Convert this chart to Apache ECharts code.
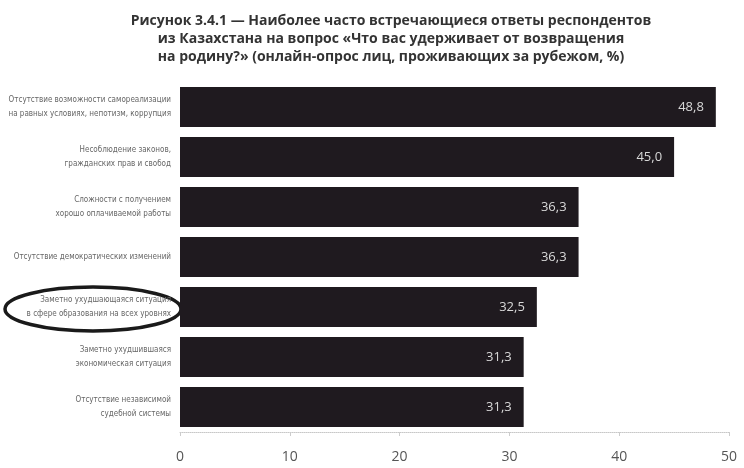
<!DOCTYPE html>
<html><head><meta charset="utf-8">
<script src="https://cdn.jsdelivr.net/npm/echarts@6/dist/echarts.min.js"></script>
<style>html,body{margin:0;padding:0;background:#fff}#c{width:744px;height:468px}</style>
</head><body><div id="c"></div>
<script>
const categories = [
  "Отсутствие возможности самореализации\nна равных условиях, непотизм, коррупция",
  "Несоблюдение законов,\nгражданских прав и свобод",
  "Сложности с получением\nхорошо оплачиваемой работы",
  "Отсутствие демократических изменений",
  "Заметно ухудшающаяся ситуация\nв сфере образования на всех уровнях",
  "Заметно ухудшившаяся\nэкономическая ситуация",
  "Отсутствие независимой\nсудебной системы"
];
const values = [48.8, 45.0, 36.3, 36.3, 32.5, 31.3, 31.3];
const xTicks = [0, 10, 20, 30, 40, 50];
const titleText = "Рисунок 3.4.1 — Наиболее часто встречающиеся ответы респондентов\nиз Казахстана на вопрос «Что вас удерживает от возвращения\nна родину?» (онлайн-опрос лиц, проживающих за рубежом, %)";

const chart = echarts.init(document.getElementById('c'));
chart.setOption({
  animation: false,
  backgroundColor: '#fff',
  title: {
    text: titleText, left: 386, top: 7, textAlign: 'center',
    textStyle: {fontFamily: 'Open Sans', fontSize: 14, fontWeight: 'bold', color: '#333', lineHeight: 18, align: 'center'}
  },
  grid: {left: 180, right: 15, top: 82, bottom: 36, containLabel: false, outerBoundsMode: 'none'},
  xAxis: {
    type: 'value', min: xTicks[0], max: xTicks[xTicks.length - 1], interval: 10,
    axisLine: {show: true, lineStyle: {color: '#c8c8c8', type: 'dotted'}},
    axisTick: {show: true, length: 4, lineStyle: {color: '#ccc'}},
    splitLine: {show: false},
    axisLabel: {margin: 18, fontFamily: 'Open Sans', fontSize: 14, color: '#555'}
  },
  yAxis: {
    type: 'category', data: categories, inverse: true,
    axisLine: {show: false}, axisTick: {show: false},
    axisLabel: {margin: 9, fontFamily: '"DejaVu Sans Condensed", "Liberation Sans Narrow", sans-serif', fontSize: 8, color: '#666', lineHeight: 14, align: 'right'}
  },
  series: [{
    type: 'bar', data: values, barCategoryGap: '20%',
    itemStyle: {color: '#1f1a1f'},
    label: {show: true, position: 'insideRight', distance: 12, formatter: p => p.value.toFixed(1).replace('.', ','),
      fontFamily: 'Open Sans', fontSize: 13, color: '#d8d8d8'}
  }],
  graphic: [{
    type: 'ellipse', shape: {cx: 93, cy: 309, rx: 88, ry: 22},
    style: {fill: 'none', stroke: '#1a1a1a', lineWidth: 3.5}
  }]
});
</script></body></html>
